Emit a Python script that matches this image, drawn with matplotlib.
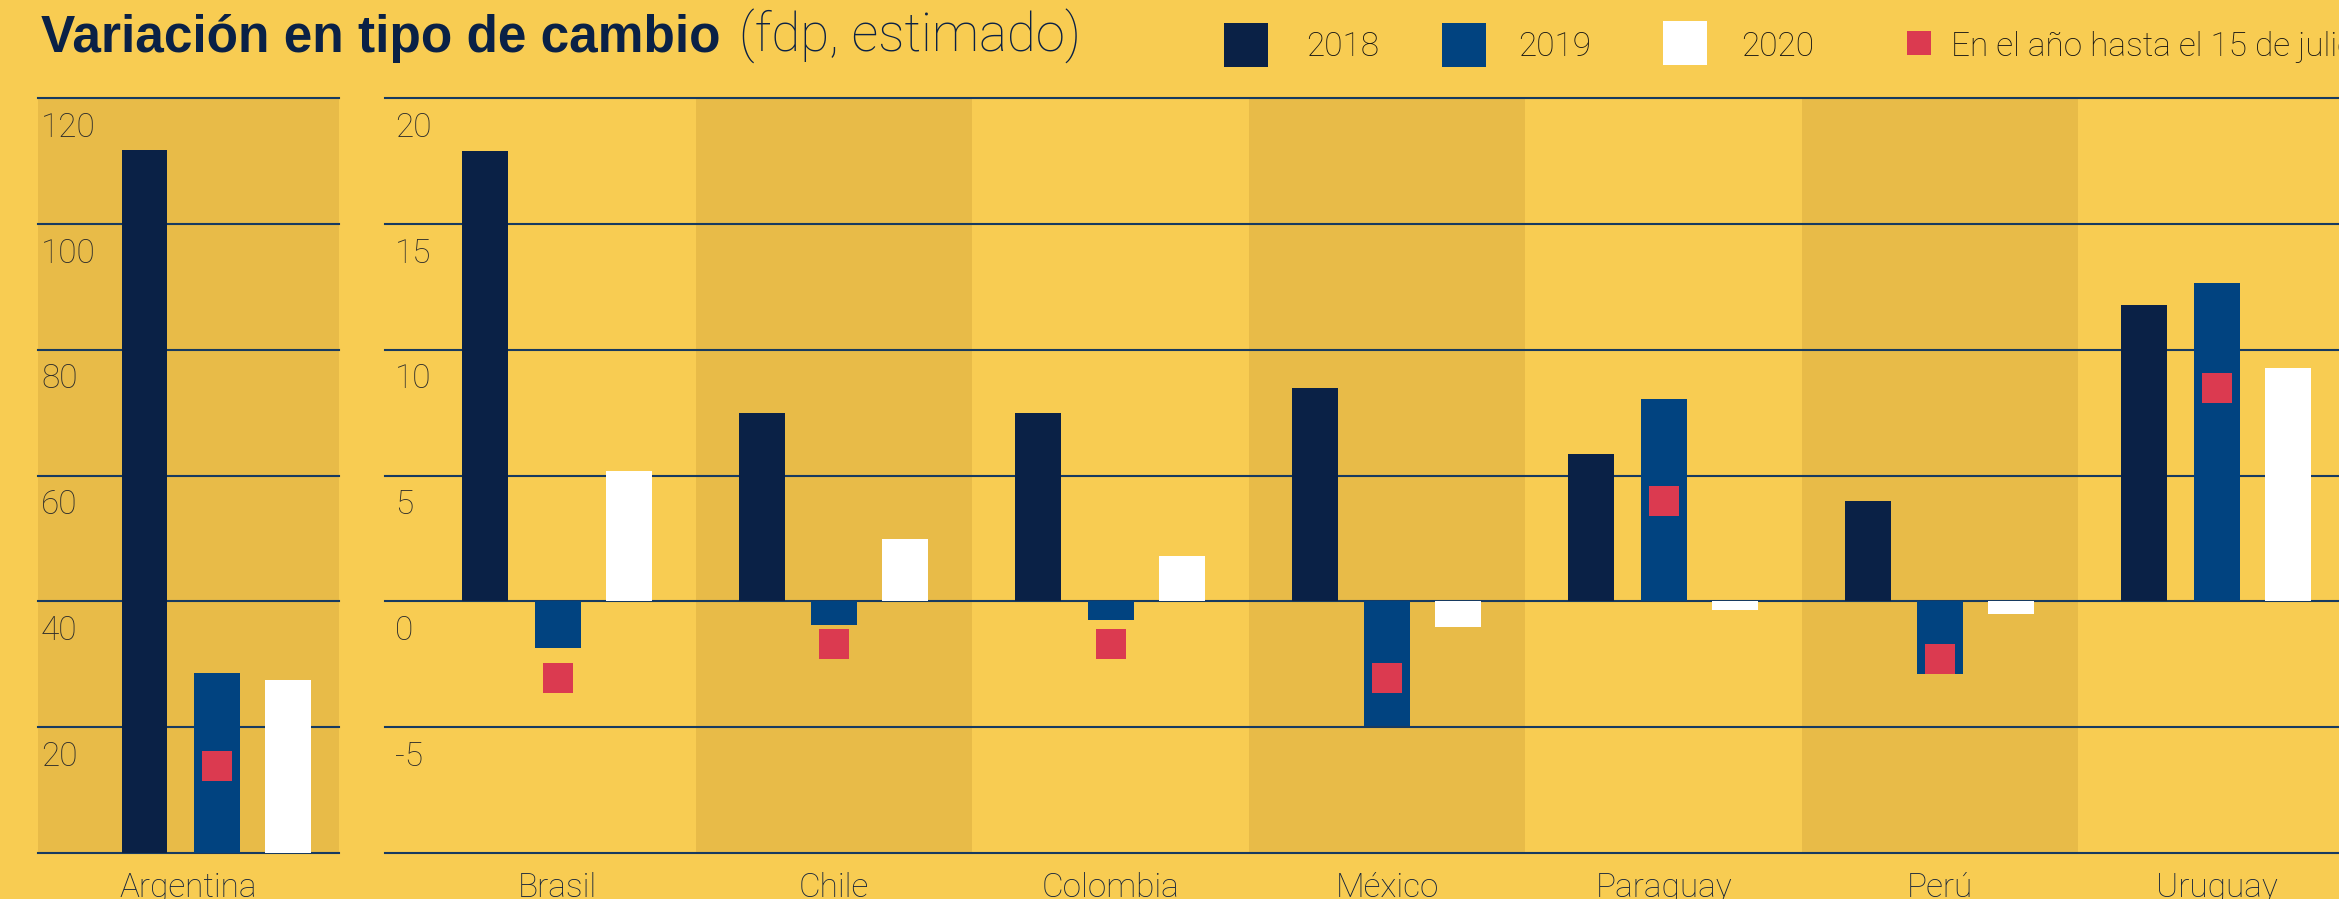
import matplotlib
matplotlib.use("Agg")
import matplotlib.pyplot as plt
from matplotlib.patches import Rectangle
from matplotlib.transforms import ScaledTranslation, blended_transform_factory
import numpy as np

# ---------------- data ----------------
left_country = ["Argentina"]
left_2018 = [111.8]
left_2019 = [28.6]
left_2020 = [27.5]
left_ytd = [13.8]

countries = ["Brasil", "Chile", "Colombia", "México", "Paraguay", "Perú", "Uruguay"]
v2018 = [17.9, 7.5, 7.5, 8.5, 5.85, 4.0, 11.8]
v2019 = [-1.85, -0.92, -0.74, -4.95, 8.05, -2.88, 12.65]
v2020 = [5.17, 2.5, 1.8, -1.0, -0.33, -0.48, 9.3]
ytd = [-3.03, -1.71, -1.71, -3.03, 4.0, -2.27, 8.5]

left_ticks = [0, 20, 40, 60, 80, 100, 120]
left_ticklabels = ["", "20", "40", "60", "80", "100", "120"]
right_ticks = [-10, -5, 0, 5, 10, 15, 20]
right_ticklabels = ["", "-5", "0", "5", "10", "15", "20"]

series_names = ["2018", "2019", "2020"]
ytd_name = "En el año hasta el 15 de julio"
title_bold = "Variación en tipo de cambio"
title_light = "(fdp, estimado)"

# ---------------- style ----------------
BG = "#F8CC52"
BAND = "#E8BB48"
C2018 = "#0A2146"
C2019 = "#014380"
C2020 = "#FFFFFF"
CRED = "#DB3A50"
GRID = "#173a60"
TICKC = "#2b2b2b"
LABC = "#14243d"
LIGHT = ["Roboto", "Liberation Sans", "DejaVu Sans"]
plt.rcParams["font.family"] = ["Liberation Sans", "DejaVu Sans"]

W, H = 2339, 899
fig = plt.figure(figsize=(W / 100, H / 100), dpi=100, facecolor=BG)

bot = 1 - 853 / H
hgt = (853 - 98.4) / H
ax_l = fig.add_axes([38 / W, bot, 300.6 / W, hgt])
ax_r = fig.add_axes([385 / W, bot, (2355 - 385) / W, hgt])

offsets = [-0.262, 0.0, 0.257]
bw = 0.166
colors = [C2018, C2019, C2020]


def draw_panel(ax, cats, s18, s19, s20, red, ticks, ticklabels, xlim, ylim,
               facecolor, bands, label_dx_px):
    ax.set_facecolor(facecolor)
    ax.set_xlim(*xlim)
    ax.set_ylim(*ylim)
    x = np.arange(len(cats))
    if bands:
        for i in x:
            if i % 2 == 1:
                ax.axvspan(i - 0.5, i + 0.5, color=BAND, lw=0, zorder=0)
    for t in ticks:
        ax.axhline(t, color=GRID, lw=1.5, zorder=1, clip_on=False)
    for vals, off, col in zip([s18, s19, s20], offsets, colors):
        ax.bar(x + off, vals, width=bw, color=col, zorder=2, linewidth=0)
    ax.plot(x + offsets[1], red, ls="none", marker="s", markersize=20.9,
            markeredgewidth=0, color=CRED, zorder=3)
    trans = blended_transform_factory(ax.transAxes, ax.transData)
    for t, lab in zip(ticks, ticklabels):
        if lab:
            ax.text(0, t, lab, transform=trans + ScaledTranslation(label_dx_px / 100, -13.4 / 100, fig.dpi_scale_trans),
                    ha="left", va="top", fontsize=24, color=TICKC, zorder=4,
                    family=LIGHT, fontweight="light")
    for s in ax.spines.values():
        s.set_visible(False)
    ax.set_yticks([])
    ax.tick_params(axis="x", length=0, pad=14.0, labelsize=24, labelcolor=LABC)


draw_panel(ax_l, left_country, left_2018, left_2019, left_2020, left_ytd,
           left_ticks, left_ticklabels, (-0.647, 0.44), (0, 120), BAND, False, 3)
ax_l.set_xticks([np.mean(ax_l.get_xlim())], left_country)

draw_panel(ax_r, countries, v2018, v2019, v2020, ytd,
           right_ticks, right_ticklabels, (-0.624, 6.5), (-10, 20), BG, True, 10)
ax_r.set_xticks(np.arange(len(countries)), countries)

for ax in (ax_l, ax_r):
    for lab in ax.get_xticklabels():
        lab.set_family(LIGHT)
        lab.set_fontweight("light")

# ---------------- title ----------------
fig.text(41 / W, 1 - 52 / H, title_bold, fontsize=37, fontweight="bold",
         color=C2018, ha="left", va="baseline")
fig.text(739 / W, 1 - 52 / H, title_light, fontsize=38, color=C2018,
         ha="left", va="baseline", family=LIGHT, fontweight="light")

# ---------------- legend ----------------
def add_rect(x0, y0, x1, y1, col):
    fig.add_artist(Rectangle((x0 / W, 1 - y1 / H), (x1 - x0) / W, (y1 - y0) / H,
                             transform=fig.transFigure, facecolor=col, lw=0))

swatches = [(1224, 23, 1268, 67), (1442, 23, 1486, 67), (1662.5, 21, 1706.6, 65)]
text_x = [1306.6, 1518, 1741]
for (x0, y0, x1, y1), col, name, tx in zip(swatches, colors, series_names, text_x):
    add_rect(x0, y0, x1, y1, col)
    fig.text(tx / W, 1 - 55.7 / H, name, fontsize=24, color="#141414",
             ha="left", va="baseline", family=LIGHT, fontweight="light")
add_rect(1906.6, 31, 1930.5, 55, CRED)
fig.text(1950.6 / W, 1 - 55.7 / H, ytd_name, fontsize=24, color="#141414",
         ha="left", va="baseline", family=LIGHT, fontweight="light")

fig.savefig("out.png", dpi=100, facecolor=BG)
